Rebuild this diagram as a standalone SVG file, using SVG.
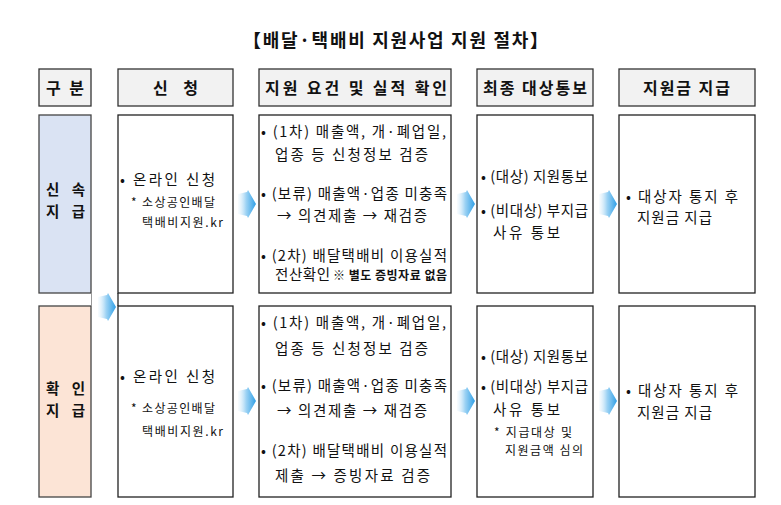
<svg xmlns="http://www.w3.org/2000/svg" width="781" height="505" viewBox="0 0 781 505">
<style>
text{font-family:"Noto Sans CJK KR","Noto Sans",sans-serif;fill:#111}
.title{font-size:18px;font-weight:bold}
.hd{font-size:16px;font-weight:bold}
.lab{font-size:14.5px;font-weight:bold}
.hbox{fill:#f2f2f2;stroke:#333;stroke-width:1.3}
.box{fill:#fff;stroke:#222;stroke-width:1.3}
.b1{fill:#dae3f3;stroke:#444;stroke-width:1.3}
.b2{fill:#fce4d6;stroke:#444;stroke-width:1.3}
.t{font-size:14.5px}
.s{font-size:12px}
.sb{font-size:12px;font-weight:bold}
.ln{stroke:#222;stroke-width:1.3}
.lg{stroke:#999;stroke-width:1}
</style>
<defs>
<linearGradient id="ag" x1="0" y1="0" x2="1" y2="0">
<stop offset="0" stop-color="#e8f4fc" stop-opacity="0.3"/>
<stop offset="0.45" stop-color="#9ed3f4"/>
<stop offset="1" stop-color="#2f9fe6"/>
</linearGradient>
<path id="arr" d="M0,4 L9,2 L10,0 L18,14 L10,28 L9,26 L0,24 Z" fill="url(#ag)"/>
</defs>

<text class="title" x="243" y="47" textLength="305" lengthAdjust="spacing">【배달·택배비 지원사업 지원 절차】</text>

<g id="h-gubun"><rect class="hbox" x="39" y="69" width="52" height="37"/><text class="hd" x="46" y="94" textLength="38" lengthAdjust="spacing">구 분</text></g>
<g id="h-apply"><rect class="hbox" x="118" y="69" width="115" height="37"/><text class="hd" x="153" y="94" textLength="45" lengthAdjust="spacing">신 청</text></g>
<g id="h-check"><rect class="hbox" x="259" y="69" width="192" height="37"/><text x="265" y="94" class="hd" textLength="182" lengthAdjust="spacing">지원 요건 및 실적 확인</text></g>
<g id="h-notice"><rect class="hbox" x="477" y="69" width="116" height="37"/><text x="483" y="94" class="hd" textLength="104" lengthAdjust="spacing">최종 대상통보</text></g>
<g id="h-pay"><rect class="hbox" x="619" y="69" width="136" height="37"/><text x="643" y="94" class="hd" textLength="87" lengthAdjust="spacing">지원금 지급</text></g>

<g id="r1-label"><rect class="b1" x="39" y="115" width="52" height="178"/><text class="lab" x="46" y="195" textLength="39" lengthAdjust="spacing">신 속</text><text class="lab" x="46" y="217" textLength="39" lengthAdjust="spacing">지 급</text></g>
<g id="r2-label"><rect class="b2" x="39" y="306" width="52" height="191"/><text class="lab" x="46" y="394" textLength="39" lengthAdjust="spacing">확 인</text><text class="lab" x="46" y="416" textLength="39" lengthAdjust="spacing">지 급</text></g>

<g id="r1-apply"><rect class="box" x="118" y="115" width="115" height="178"/>
<text class="t" x="120" y="185" textLength="95" lengthAdjust="spacing">• 온라인 신청</text>
<text class="s" x="131" y="207" textLength="84" lengthAdjust="spacing">* 소상공인배달</text>
<text class="s" x="142" y="227" textLength="81" lengthAdjust="spacing">택배비지원.kr</text></g>

<g id="r2-apply"><rect class="box" x="118" y="306" width="115" height="191"/>
<text class="t" x="120" y="382" textLength="95" lengthAdjust="spacing">• 온라인 신청</text>
<text class="s" x="131" y="413" textLength="84" lengthAdjust="spacing">* 소상공인배달</text>
<text class="s" x="142" y="436" textLength="81" lengthAdjust="spacing">택배비지원.kr</text></g>

<g id="r1-check"><rect class="box" x="259" y="115" width="192" height="178"/>
<text class="t" x="261" y="137" textLength="185" lengthAdjust="spacing">• (1차) 매출액, 개·폐업일,</text>
<text class="t" x="275" y="160" textLength="153" lengthAdjust="spacing">업종 등 신청정보 검증</text>
<text class="t" x="261" y="199" textLength="186" lengthAdjust="spacing">• (보류) 매출액·업종 미충족</text>
<text class="t" x="277" y="221" textLength="150" lengthAdjust="spacing">→ 의견제출 → 재검증</text>
<text class="t" x="261" y="261" textLength="186" lengthAdjust="spacing">• (2차) 배달택배비 이용실적</text>
<text class="t" x="275" y="280"><tspan textLength="55" lengthAdjust="spacing">전산확인</tspan><tspan class="sb" x="333" textLength="114" lengthAdjust="spacing">※ 별도 증빙자료 없음</tspan></text></g>

<g id="r2-check"><rect class="box" x="259" y="306" width="192" height="191"/>
<text class="t" x="261" y="328" textLength="185" lengthAdjust="spacing">• (1차) 매출액, 개·폐업일,</text>
<text class="t" x="275" y="354" textLength="153" lengthAdjust="spacing">업종 등 신청정보 검증</text>
<text class="t" x="261" y="391" textLength="186" lengthAdjust="spacing">• (보류) 매출액·업종 미충족</text>
<text class="t" x="277" y="416" textLength="150" lengthAdjust="spacing">→ 의견제출 → 재검증</text>
<text class="t" x="261" y="456" textLength="186" lengthAdjust="spacing">• (2차) 배달택배비 이용실적</text>
<text class="t" x="275" y="481" textLength="155" lengthAdjust="spacing">제출 → 증빙자료 검증</text></g>

<g id="r1-notice"><rect class="box" x="477" y="115" width="116" height="178"/>
<text class="t" x="481" y="182" textLength="107" lengthAdjust="spacing">• (대상) 지원통보</text>
<text class="t" x="481" y="216" textLength="107" lengthAdjust="spacing">• (비대상) 부지급</text>
<text class="t" x="493" y="238" textLength="67" lengthAdjust="spacing">사유 통보</text></g>

<g id="r2-notice"><rect class="box" x="477" y="306" width="116" height="191"/>
<text class="t" x="481" y="362" textLength="107" lengthAdjust="spacing">• (대상) 지원통보</text>
<text class="t" x="481" y="392" textLength="107" lengthAdjust="spacing">• (비대상) 부지급</text>
<text class="t" x="493" y="415" textLength="67" lengthAdjust="spacing">사유 통보</text>
<text class="s" x="494" y="437" textLength="78" lengthAdjust="spacing">* 지급대상 및</text>
<text class="s" x="505" y="455" textLength="78" lengthAdjust="spacing">지원금액 심의</text></g>

<g id="r1-pay"><rect class="box" x="619" y="115" width="136" height="178"/>
<text class="t" x="626" y="202" textLength="112" lengthAdjust="spacing">• 대상자 통지 후</text>
<text class="t" x="637" y="223" textLength="75" lengthAdjust="spacing">지원금 지급</text></g>

<g id="r2-pay"><rect class="box" x="619" y="306" width="136" height="191"/>
<text class="t" x="626" y="396" textLength="112" lengthAdjust="spacing">• 대상자 통지 후</text>
<text class="t" x="637" y="418" textLength="75" lengthAdjust="spacing">지원금 지급</text></g>

<g id="connectors">
<line class="lg" x1="91.5" y1="293" x2="91.5" y2="306"/>
<line class="ln" x1="118" y1="293" x2="118" y2="306"/>
<use href="#arr" x="98" y="293"/>
<use href="#arr" x="238" y="190"/>
<use href="#arr" x="457" y="190"/>
<use href="#arr" x="599" y="190"/>
<use href="#arr" x="238" y="387"/>
<use href="#arr" x="457" y="387"/>
<use href="#arr" x="599" y="387"/>
</g>
</svg>
